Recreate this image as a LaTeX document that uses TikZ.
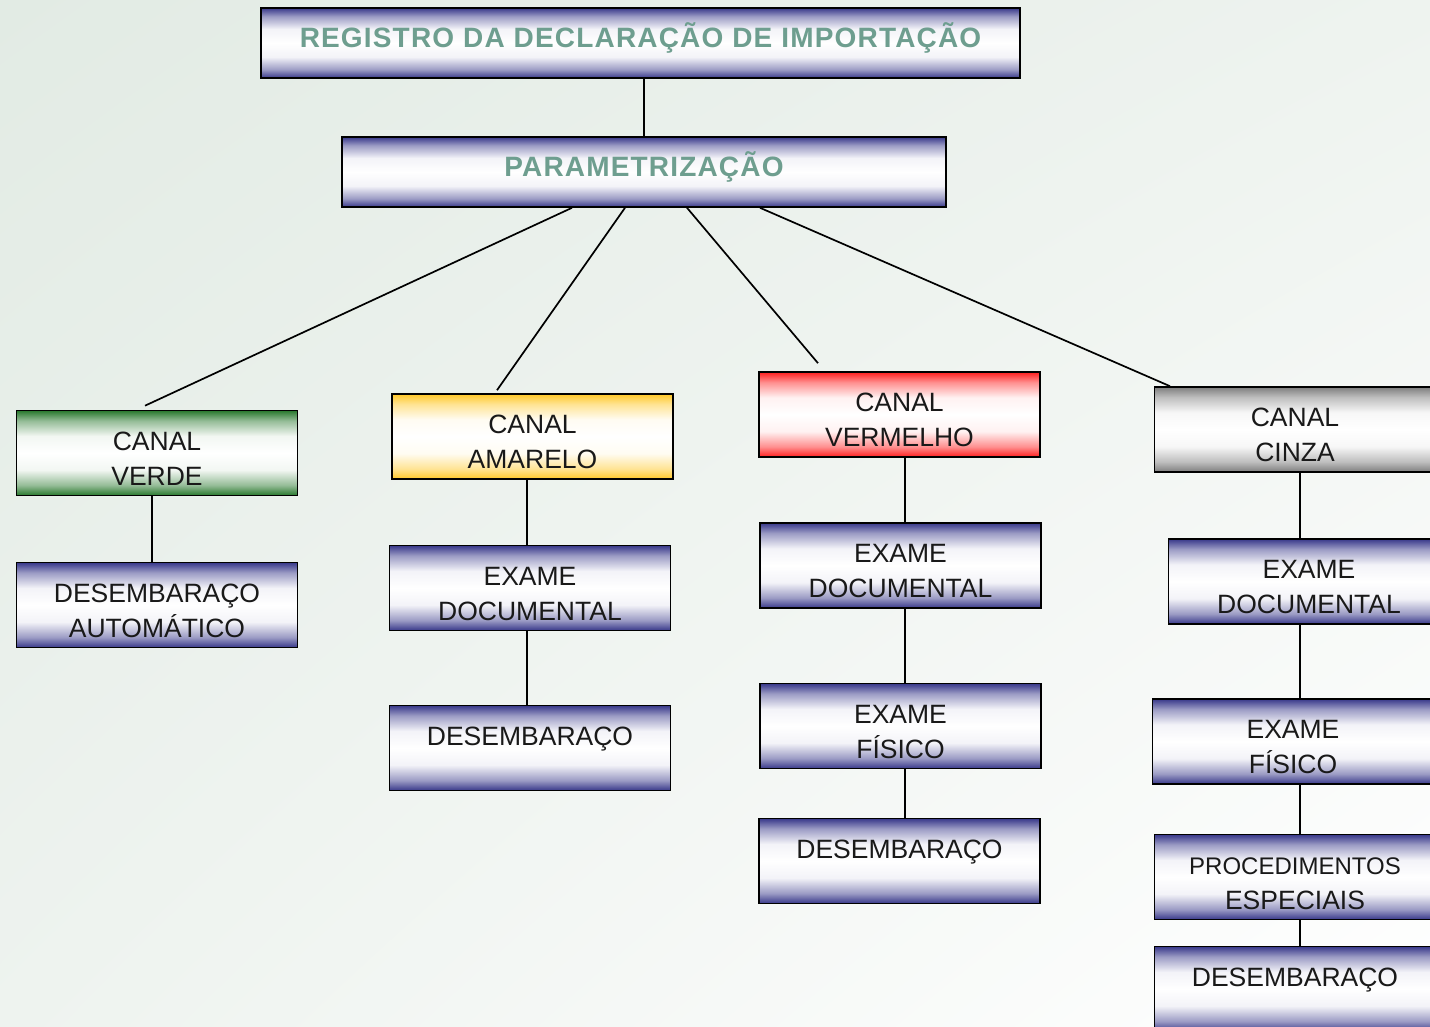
\documentclass[tikz,border=0pt]{standalone}
\usepackage{fontspec}
\setmainfont{Liberation Sans}
\newfontfamily\headfont[LetterSpace=4.2]{Liberation Sans}
\usetikzlibrary{calc,shadings}

\definecolor{edgeblue}{RGB}{56,56,138}
\definecolor{edgegreen}{RGB}{40,120,45}
\definecolor{edgeyellow}{RGB}{255,200,40}
\definecolor{edgered}{RGB}{255,30,30}
\definecolor{edgegray}{RGB}{125,125,125}
\definecolor{titlegreen}{RGB}{110,158,143}
\definecolor{bgA}{RGB}{226,235,228}
\definecolor{bgB}{RGB}{238,243,239}

% band shading: coloured top and bottom edges, white centre
\newcommand\bandshading[2]{%
  \pgfdeclareverticalshading{#1}{100bp}{%
    color(0bp)=(#2); color(25bp)=(#2); color(31bp)=(#2!50!white);
    color(40bp)=(#2!6!white); color(50bp)=(white); color(60bp)=(#2!6!white);
    color(69bp)=(#2!50!white); color(75bp)=(#2); color(100bp)=(#2)}}
\bandshading{bandblue}{edgeblue}
\bandshading{bandgreen}{edgegreen}
\bandshading{bandyellow}{edgeyellow}
\bandshading{bandred}{edgered}
\bandshading{bandgray}{edgegray}

% two text lines, first baseline 39 below the top, second 35 lower
\newcommand\tl[2]{\rule{0pt}{35pt}#1\\#2\rule[-6pt]{0pt}{6pt}}

\tikzset{
  box/.style={draw=black, line width=1.6pt, minimum width=281pt, minimum height=85pt,
    inner sep=0pt, align=center, text=black!90,
    font=\fontsize{26.5}{35}\selectfont},
  bluebox/.style={box, shade, shading=bandblue},
  headbox/.style={draw=black, line width=1.6pt, minimum height=70pt, inner sep=0pt,
    shade, shading=bandblue, text=titlegreen, text height=20pt, text depth=10pt,
    font=\headfont\fontsize{28}{34}\selectfont\bfseries},
  link/.style={line width=1.7pt, black}
}

\begin{document}
\begin{tikzpicture}[x=1pt, y=-1pt]
  \useasboundingbox (0,0) rectangle (1430,1027);
  \shade[upper left=bgA, upper right=bgB, lower left=bgB, lower right=white]
    (0,0) rectangle (1430,1027);

  % header boxes
  \node[headbox, minimum width=759pt] (reg) at (640.5,43) {REGISTRO DA DECLARAÇÃO DE IMPORTAÇÃO};
  \node[headbox, minimum width=604pt] (par) at (644,172) {PARAMETRIZAÇÃO};

  % channels
  \node[box, shade, shading=bandgreen]  (verde) at (157,453)   {\tl{CANAL}{VERDE}};
  \node[box, shade, shading=bandyellow] (amar)  at (532.5,436.5) {\tl{CANAL}{AMARELO}};
  \node[box, shade, shading=bandred]    (verm)  at (899.5,414.5) {\tl{CANAL}{VERMELHO}};
  \node[box, shade, shading=bandgray]   (cinza) at (1295,429.5) {\tl{CANAL}{CINZA}};

  % green channel
  \node[bluebox] (vdes) at (157,605) {\tl{DESEMBARAÇO}{AUTOMÁTICO}};
  % yellow channel
  \node[bluebox] (adoc) at (530,588) {\tl{EXAME}{DOCUMENTAL}};
  \node[bluebox] (ades) at (530,748) {\tl{DESEMBARAÇO}{}};
  % red channel
  \node[bluebox] (rdoc) at (900.5,565.5) {\tl{EXAME}{DOCUMENTAL}};
  \node[bluebox] (rfis) at (900.5,726)   {\tl{EXAME}{FÍSICO}};
  \node[bluebox] (rdes) at (899.5,861)   {\tl{DESEMBARAÇO}{}};
  % grey channel
  \node[bluebox] (gdoc)  at (1309,581.5) {\tl{EXAME}{DOCUMENTAL}};
  \node[bluebox] (gfis)  at (1293,741.5) {\tl{EXAME}{FÍSICO}};
  \node[bluebox] (gproc) at (1295,877)   {\rule{0pt}{35pt}\fontsize{24}{32}\selectfont PROCEDIMENTOS\\ESPECIAIS\rule[-6pt]{0pt}{6pt}};
  \node[bluebox] (gdes)  at (1295,989)   {\tl{DESEMBARAÇO}{}};

  % column axes of the vertical connectors
  \coordinate (colV) at (152,0);
  \coordinate (colA) at (527,0);
  \coordinate (colR) at (905,0);
  \coordinate (colG) at (1300,0);

  % connectors
  \draw[link] (reg.south -| par.north) -- (par.north);
  \draw[link] ([xshift=-72pt]par.south) -- ([shift={(-12,-4)}]verde.north);
  \draw[link] ([xshift=-19pt]par.south) -- ([shift={(-35.5,-3)}]amar.north);
  \draw[link] ([xshift=43pt]par.south)  -- ([shift={(-81.5,-8)}]verm.north);
  \draw[link] ([xshift=116pt]par.south) -- ([xshift=-125pt]cinza.north);

  \draw[link] (verde.south -| colV) -- (vdes.north -| colV);

  \draw[link] (amar.south -| colA) -- (adoc.north -| colA);
  \draw[link] (adoc.south -| colA) -- (ades.north -| colA);

  \draw[link] (verm.south -| colR) -- (rdoc.north -| colR);
  \draw[link] (rdoc.south -| colR) -- (rfis.north -| colR);
  \draw[link] (rfis.south -| colR) -- (rdes.north -| colR);

  \draw[link] (cinza.south -| colG) -- (gdoc.north -| colG);
  \draw[link] (gdoc.south -| colG)  -- (gfis.north -| colG);
  \draw[link] (gfis.south -| colG)  -- (gproc.north -| colG);
  \draw[link] (gproc.south -| colG) -- (gdes.north -| colG);
\end{tikzpicture}
\end{document}
